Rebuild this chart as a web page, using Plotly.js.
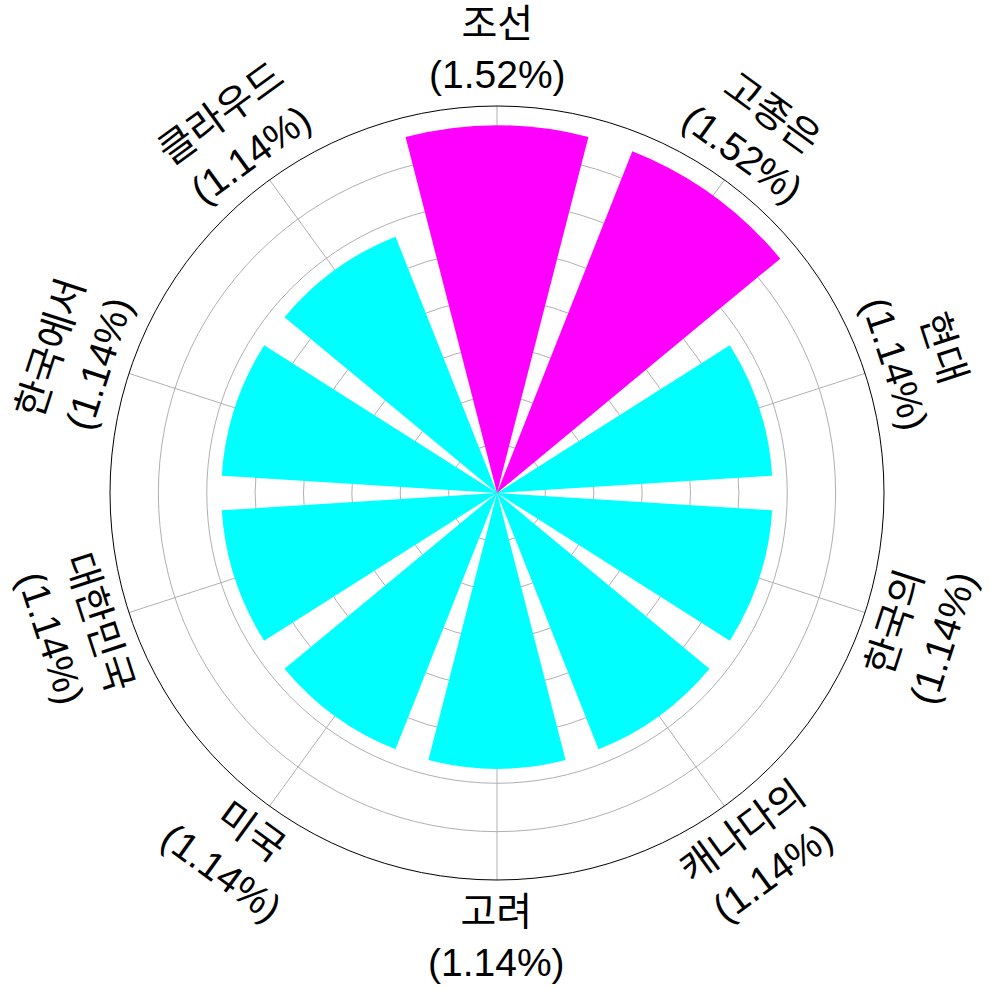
<!DOCTYPE html>
<html>
<head>
<meta charset="utf-8">
<script src="https://cdn.plot.ly/plotly-3.0.1.min.js"></script>
<style>html,body{margin:0;padding:0;background:#fff;}</style>
</head>
<body>
<div id="chart" style="width:990px;height:989px;"></div>
<script>
const categories = ["조선", "고종은", "현대", "한국의", "캐나다의", "고려", "미국", "대한민국", "한국에서", "클라우드"];
const values = [1.52, 1.52, 1.14, 1.14, 1.14, 1.14, 1.14, 1.14, 1.14, 1.14];

const maxVal = Math.max(...values);
const colors = values.map(v => v === maxVal ? "#ff00ff" : "#00ffff");

const W = 990, H = 989;
const margin = {l: 110, r: 106, t: 106, b: 109};
const plotSize = W - margin.l - margin.r; // 774
const labelR = 444;
const step = 360 / categories.length;

const annotations = categories.map((c, i) => {
  let th = 90 - step * i;
  th = ((th % 360) + 360) % 360;
  const rad = th * Math.PI / 180;
  const rot = (th <= 180) ? 90 - th : 270 - th;
  return {
    xref: "paper", yref: "paper",
    x: 0.5 + labelR * Math.cos(rad) / plotSize,
    y: 0.5 + labelR * Math.sin(rad) / plotSize,
    text: c + "<br>(" + values[i].toFixed(2) + "%)",
    showarrow: false,
    textangle: rot,
    xanchor: "center", yanchor: "middle",
    font: {family: "Liberation Sans, Noto Sans CJK KR, sans-serif", size: 39, color: "#000"}
  };
});

const trace = {
  type: "barpolar",
  r: values,
  theta: categories,
  marker: {color: colors, line: {width: 0}},
  hoverinfo: "skip"
};

const layout = {
  width: W, height: H,
  margin: margin,
  showlegend: false,
  paper_bgcolor: "#fff",
  polar: {
    bgcolor: "#fff",
    bargap: 0.2,
    radialaxis: {
      range: [0, 1.6], dtick: 0.2, showticklabels: false, ticks: "",
      showline: false, gridcolor: "#b0b0b0", gridwidth: 1
    },
    angularaxis: {
      type: "category", categoryarray: categories, rotation: 90, direction: "clockwise",
      showticklabels: false, ticks: "", showline: true, linecolor: "#000", linewidth: 1,
      gridcolor: "#b0b0b0", gridwidth: 1
    }
  },
  annotations: annotations
};

Plotly.newPlot("chart", [trace], layout, {displayModeBar: false, staticPlot: true});
</script>
</body>
</html>
